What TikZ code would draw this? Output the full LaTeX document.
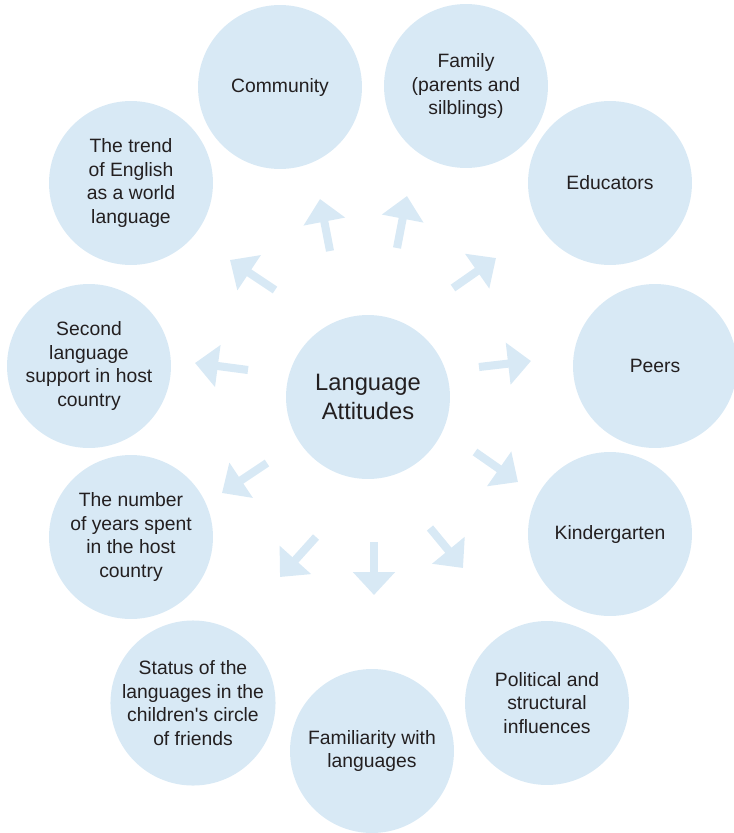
\documentclass[tikz,border=0pt]{standalone}
\usepackage{fontspec}
\setmainfont{Liberation Sans}
\usetikzlibrary{arrows.meta}

\definecolor{bubble}{RGB}{216,233,245}
\definecolor{ink}{RGB}{35,31,32}

\tikzset{
  bubble/.style={circle, fill=bubble, minimum size=3.28cm, inner sep=0pt,
    align=center, text=ink, font=\fontsize{11}{13.5}\selectfont},
  hub/.style={bubble, font=\fontsize{13.5}{17}\selectfont},
  push/.style={draw=bubble, line width=4.6pt,
    -{Triangle[width=0.82cm,length=0.46cm]}}
}

\begin{document}
\begin{tikzpicture}[x=0.02cm, y=-0.02cm]
  \useasboundingbox (0,0) rectangle (734,833);

  \node[hub] (lang)  at (368,397) {Language\\Attitudes};

  \node[bubble] (comm)  at (280,87)  {Community};
  \node[bubble] (fam)   at (466,86)  {Family\\(parents and\\silblings)};
  \node[bubble] (edu)   at (610,183) {Educators};
  \node[bubble] (peer)  at (655,366) {Peers};
  \node[bubble] (kind)  at (610,534) {Kindergarten};
  \node[bubble] (pol)   at (547,703) {Political and\\structural\\influences};
  \node[bubble] (fami)  at (372,751) {Familiarity with\\languages};
  \node[bubble] (stat)  at (193,703) {Status of the\\languages in the\\children\textquotesingle s circle\\of friends};
  \node[bubble] (years) at (131,537) {The number\\of years spent\\in the host\\country};
  \node[bubble] (sec)   at (89,366)  {Second\\language\\support in host\\country};
  \node[bubble] (trend) at (131,183) {The trend\\of English\\as a world\\language};

  % arrows around the hub
  \coordinate (t1)  at (330,251); \coordinate (h1)  at (320,199);
  \coordinate (t2)  at (397,248); \coordinate (h2)  at (407,196);
  \coordinate (t3)  at (453,288); \coordinate (h3)  at (496,258);
  \coordinate (t4)  at (479,367); \coordinate (h4)  at (531,361);
  \coordinate (t5)  at (475,452); \coordinate (h5)  at (518,482);
  \coordinate (t6)  at (430,528); \coordinate (h6)  at (463,568);
  \coordinate (t7)  at (374,542); \coordinate (h7)  at (374,595);
  \coordinate (t8)  at (316,537); \coordinate (h8)  at (280,577);
  \coordinate (t9)  at (267,463); \coordinate (h9)  at (222,493);
  \coordinate (t10) at (248,370); \coordinate (h10) at (195,363);
  \coordinate (t11) at (275,290); \coordinate (h11) at (230,260);

  \foreach \i in {1,...,11}
    \draw[push] (t\i) -- (h\i);
\end{tikzpicture}
\end{document}
